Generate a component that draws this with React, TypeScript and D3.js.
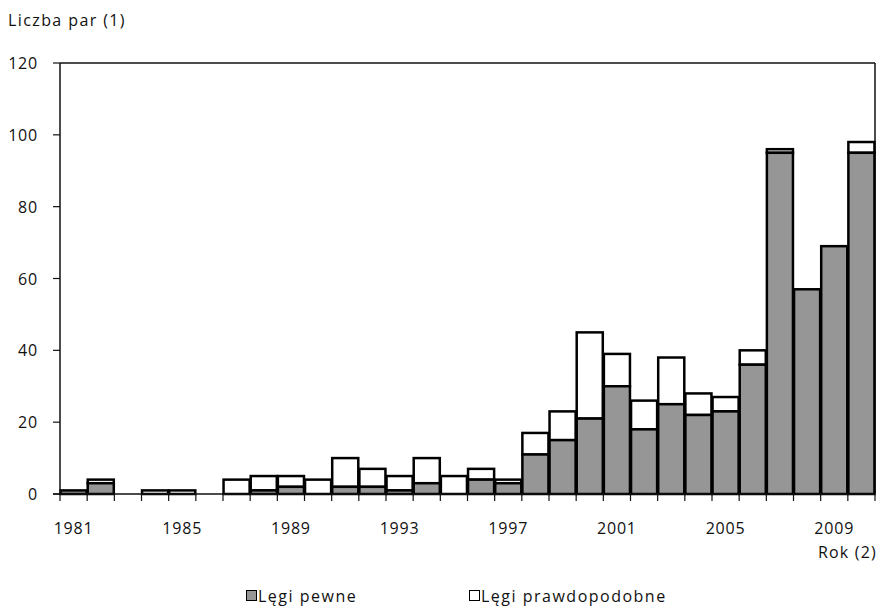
import React from "react";
import * as d3 from "d3";

const years: number[] = [1981,1982,1983,1984,1985,1986,1987,1988,1989,1990,1991,1992,1993,1994,1995,1996,1997,1998,1999,2000,2001,2002,2003,2004,2005,2006,2007,2008,2009,2010];
const pewne: number[] = [1,3,0,0,0,0,0,1,2,0,2,2,1,3,0,4,3,11,15,21,30,18,25,22,23,36,95,57,69,95];
const razem: number[] = [1,4,0,1,1,0,4,5,5,4,10,7,5,10,5,7,4,17,23,45,39,26,38,28,27,40,96,57,69,98];
const yTicks: number[] = [0,20,40,60,80,100,120];
const xLabelYears: number[] = [1981,1985,1989,1993,1997,2001,2005,2009];

const W = 884, H = 610;
const left = 60, right = 875, top = 63, bottom = 494;
const FONT = "'Open Sans', 'Noto Sans', sans-serif";
const GRAY = "#969696";

export default function App() {
  const x = d3.scaleBand<number>().domain(years).range([left, right]).paddingInner(0.04).paddingOuter(0.02);
  const y = d3.scaleLinear().domain([0, 120]).range([bottom, top]);
  const bounds = d3.range(years.length + 1).map((i) => left + i * ((right - left) / years.length));
  const bandCenter = (yr: number) => left + (years.indexOf(yr) + 0.5) * ((right - left) / years.length);

  return (
    <svg width={W} height={H} style={{ position: "absolute", left: 0, top: 0, background: "#fff" }} fontFamily={FONT}>
      <text x={8} y={26} fontSize={16} letterSpacing={1.4} fill="#111">Liczba par (1)</text>
      {/* frame */}
      <line x1={left} y1={top} x2={right} y2={top} stroke="#111" strokeWidth={1.5} />
      <line x1={right} y1={top} x2={right} y2={bottom} stroke="#111" strokeWidth={1.5} />
      {/* bars */}
      {years.map((yr, i) => {
        const bx = x(yr)!;
        const bw = x.bandwidth();
        const p = pewne[i];
        const t = razem[i];
        return (
          <g key={yr}>
            {t - p > 0 && (
              <rect x={bx} y={y(t)} width={bw} height={y(p) - y(t)} fill="#fff" stroke="#000" strokeWidth={2.5} />
            )}
            {p > 0 && (
              <rect x={bx} y={y(p)} width={bw} height={y(0) - y(p)} fill={GRAY} stroke="#000" strokeWidth={2.5} />
            )}
          </g>
        );
      })}
      {/* y axis */}
      <line x1={left} y1={top} x2={left} y2={bottom} stroke="#111" strokeWidth={1.5} />
      {yTicks.map((v) => (
        <g key={v}>
          <line x1={left - 7} x2={left} y1={y(v)} y2={y(v)} stroke="#111" strokeWidth={1.2} />
          <text x={38} y={y(v) + 6} fontSize={16} letterSpacing={0.8} textAnchor="end" fill="#111">{v}</text>
        </g>
      ))}
      {/* x axis */}
      <line x1={left - 7} x2={right} y1={bottom} y2={bottom} stroke="#111" strokeWidth={1.5} />
      {bounds.map((bx, i) => (
        <line key={i} x1={bx} x2={bx} y1={bottom} y2={bottom + 7} stroke="#111" strokeWidth={1.2} />
      ))}
      {xLabelYears.map((yr) => (
        <text key={yr} x={bandCenter(yr)} y={534} fontSize={16} letterSpacing={0.8} textAnchor="middle" fill="#111">{yr}</text>
      ))}
      <text x={877} y={558} fontSize={16} letterSpacing={1.2} textAnchor="end" fill="#111">Rok (2)</text>
      {/* legend */}
      <rect x={246.5} y={590.5} width={10} height={10} fill={GRAY} stroke="#000" strokeWidth={1} />
      <text x={258} y={602} fontSize={16} letterSpacing={1.5} fill="#111">Lęgi pewne</text>
      <rect x={469.5} y={590.5} width={10} height={10} fill="#fff" stroke="#000" strokeWidth={1} />
      <text x={481} y={602} fontSize={16} letterSpacing={1.5} fill="#111">Lęgi prawdopodobne</text>
    </svg>
  );
}
